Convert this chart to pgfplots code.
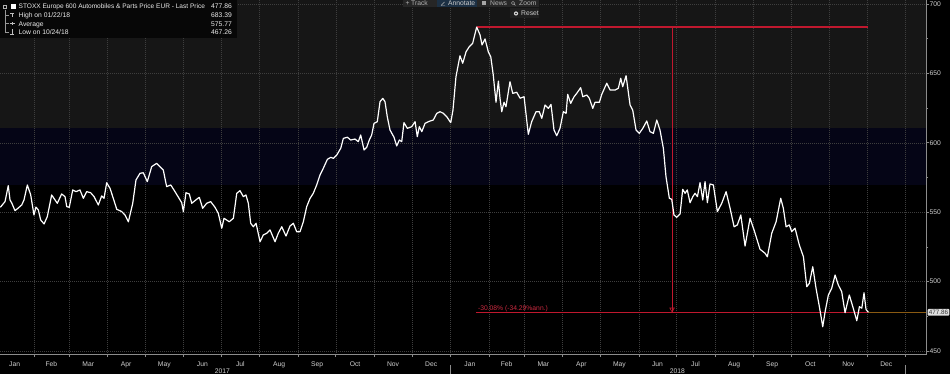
\documentclass[border=0pt]{standalone}
\usepackage{fontspec}
\setmainfont{Liberation Sans}
\usepackage{pgfplots}
\pgfplotsset{compat=1.18}
\usetikzlibrary{backgrounds,calc}
\definecolor{bggray}{HTML}{161616}
\definecolor{bgnavy}{HTML}{050516}
\definecolor{gridc}{HTML}{3E3E3E}
\definecolor{axc}{HTML}{8C8C8C}
\definecolor{txt}{HTML}{D0D0D0}
\definecolor{annred}{HTML}{C0182E}
\definecolor{annredtxt}{HTML}{CC2A40}
\definecolor{lastor}{HTML}{8A5A12}
\definecolor{legbg}{HTML}{070707}
\definecolor{tbbg}{HTML}{262626}
\definecolor{tbsel}{HTML}{1C3044}
\newcommand{\f}{\fontsize{6.75}{8}\selectfont}
\begin{document}
\begin{tikzpicture}[x=1pt,y=1pt]
\begin{axis}[
 name=ax,
 at={(0pt,374pt)}, anchor=north west, scale only axis, width=926pt, height=355pt,
 clip mode=individual,
 xmin=3.77, xmax=746.3, ymin=447.1, ymax=702.88,
 axis x line*=bottom, axis y line*=right,
 axis line style={axc, line width=1pt},
 tick align=outside,
 major tick length=3pt, minor tick length=2pt,
 ytick={450,500,550,600,650,700},
 minor ytick={475,525,575,625,675},
 y tick style={axc, line width=0.6pt},
 xtick={15.5,45,74.5,105,135.5,166,196.5,227.5,258,288.5,319,349.5,380.5,410,439.5,470,500.5,531,561.5,592.5,623,653.5,684,714.5},
 xticklabels={Jan,Feb,Mar,Apr,May,Jun,Jul,Aug,Sep,Oct,Nov,Dec,Jan,Feb,Mar,Apr,May,Jun,Jul,Aug,Sep,Oct,Nov,Dec},
 minor xtick={31,59,90,120,151,181,212,243,273,304,334,365,396,424,455,485,516,546,577,608,638,669,699,730},
 major x tick style={draw=none},
 minor x tick style={axc, line width=0.6pt},
 xminorgrids=true, ymajorgrids=true, xmajorgrids=false,
 minor x grid style={gridc, dash pattern=on 0.7pt off 1.3pt, line width=0.5pt},
 major y grid style={gridc, dash pattern=on 0.7pt off 1.3pt, line width=0.5pt},
 /pgf/number format/assume math mode=true,
 yticklabel style={font=\f, text=txt, inner sep=0.5pt},
 xticklabel style={font=\f, text=txt, inner sep=1pt, text height=5pt, text depth=1.4pt, yshift=-2pt},
 extra x ticks={182,547},
 extra x tick labels={2017,2018},
 extra x tick style={grid=none, major tick length=0pt, tick label style={yshift=-10.5pt}},
]
% last price line
\addplot[lastor, line width=1pt] coordinates {(700.1,477.86) (746.3,477.86)};
% annotation lines
\addplot[annred, line width=1.1pt] coordinates {(386,683.39) (700.1,683.39)};
\addplot[annred, line width=1pt] coordinates {(542.7,683.39) (542.7,477.86)};
\addplot[annred, line width=1.1pt] coordinates {(385.5,477.86) (700.1,477.86)};
\addplot[annred, only marks, mark=triangle, mark size=2.6pt, mark options={rotate=180, line width=0.6pt, fill=none}] coordinates {(542.7,480.0)};
\node[anchor=south west, text=annredtxt, font=\f, inner sep=0.6pt] at (axis cs:386.5,477.86) {-30.08\% (-34.29\%ann.)};
% price series
\addplot[white, line width=1.2pt, line join=round] coordinates {
(4,553.5)(7.8,557.6)(10.4,569.1)(11.8,558.8)(13.2,556.6)(15.8,551.1)(18.4,553.0)(21.2,555.2)(23.0,558.8)(25.7,569.6)(28.4,562.4)(31.0,548.0)(32.6,553.7)(34.5,551.6)(36.4,544.4)(39.1,541.5)(41.7,546.8)(45.2,562.4)(47.9,558.8)(49.7,556.4)(53.2,563.1)(55.9,561.2)(57.3,554.0)(59.3,553.5)(62.1,566.0)(64.7,564.8)(67.9,566.0)(70.6,560.0)(73.3,564.8)(76.5,564.0)(79.2,561.2)(82.6,555.2)(85.3,561.7)(87.2,560.0)(89.3,571.2)(92.0,567.2)(94.6,560.0)(97.4,552.1)(101.4,550.4)(104.0,548.0)(106.7,543.1)(110.2,556.4)(112.8,573.2)(116.0,578.0)(118.7,578.4)(121.9,572.0)(125.4,582.8)(129.4,585.2)(132.6,582.3)(134.7,580.4)(137.4,568.4)(140.7,569.6)(144.1,564.8)(149.5,556.8)(150.8,550.4)(152.9,564.0)(155.6,563.1)(157.5,556.4)(161.5,559.3)(163.6,560.7)(166.3,552.8)(169.5,556.4)(172.7,557.6)(176.2,553.5)(178.8,549.2)(181.6,538.4)(183.4,545.6)(187.6,543.1)(190.9,545.6)(193.6,563.6)(196.2,565.5)(198.9,561.2)(201.0,562.4)(202.9,556.4)(204.8,542.0)(206.9,539.5)(209.1,542.0)(212.3,528.7)(214.9,533.6)(217.6,534.8)(220.3,537.2)(224.3,528.7)(226.9,534.8)(229.7,539.5)(233.1,532.8)(236.3,540.0)(239.0,542.0)(241.7,535.9)(244.3,535.9)(247.0,543.1)(249.7,554.0)(252.4,560.0)(255.0,563.6)(257.7,569.6)(260.4,576.8)(263.0,581.6)(266.3,588.1)(269.0,589.5)(271.1,588.8)(273.8,591.2)(277.0,596.0)(279.1,603.2)(282.3,604.0)(285.0,602.0)(288.4,602.7)(291.1,600.8)(293.0,605.6)(295.7,594.8)(297.8,596.7)(299.9,602.0)(301.8,605.6)(303.7,614.0)(306.3,615.2)(308.5,629.6)(310.7,632.0)(312.5,629.6)(314.3,618.8)(316.5,609.2)(319.7,604.0)(321.9,597.7)(324.0,602.0)(325.9,600.8)(327.7,614.5)(330.4,610.4)(333.9,611.6)(336.6,615.2)(338.4,604.4)(340.0,611.6)(342.0,608.0)(344.6,614.0)(347.2,615.2)(351.2,616.4)(354.0,621.2)(356.6,622.4)(359.3,621.2)(362.0,618.8)(365.2,614.5)(367.0,623.6)(369.4,647.6)(372.6,662.7)(374.8,657.3)(377.5,665.6)(380.1,669.3)(382.8,671.7)(386.0,683.4)(388.7,677.7)(390.3,670.5)(392.7,674.8)(395.3,665.6)(397.3,662.0)(399.3,648.8)(401.5,629.2)(403.4,644.5)(404.7,632.1)(406.1,622.4)(407.9,629.2)(409.5,626.0)(412.7,644.0)(414.9,635.6)(418.1,636.4)(420.8,632.1)(424.0,633.2)(427.4,606.1)(430.1,615.2)(433.6,622.4)(436.2,622.4)(438.2,617.6)(440.8,627.2)(443.5,624.8)(445.6,627.7)(448.0,609.2)(450.2,605.1)(452.8,610.4)(455.5,622.4)(457.7,621.2)(459.0,634.9)(461.4,628.4)(464.1,633.2)(466.2,635.6)(469.4,639.7)(471.1,633.2)(474.3,634.4)(476.3,632.1)(479.1,624.8)(480.9,629.2)(484.4,629.2)(486.3,634.9)(490.3,642.9)(493.0,638.0)(497.0,638.0)(499.6,639.3)(501.5,646.5)(503.1,640.4)(505.8,648.3)(509.0,627.2)(511.1,623.6)(513.8,609.2)(516.4,606.8)(519.2,610.4)(522.4,615.7)(525.0,608.0)(527.7,606.8)(530.4,616.4)(533.0,609.2)(535.7,596.0)(537.8,575.6)(540.5,560.0)(542.4,559.3)(544.2,548.0)(546.4,546.3)(549.1,548.7)(551.2,566.5)(553.1,563.6)(554.9,566.0)(557.1,556.8)(559.3,561.2)(561.1,563.6)(563.0,561.2)(565.1,571.3)(567.3,558.8)(569.1,572.0)(571.0,556.8)(573.1,570.3)(575.8,569.6)(579.0,550.4)(582.5,556.4)(586.0,564.8)(589.2,552.8)(592.4,539.5)(595.0,540.8)(597.8,548.0)(601.2,525.6)(605.2,545.6)(608.4,537.2)(613.2,523.3)(617.2,520.4)(619.1,517.9)(622.6,534.8)(626.1,543.1)(629.8,560.0)(631.9,552.8)(634.1,539.5)(636.7,540.8)(638.6,536.0)(641.3,538.4)(644.7,526.4)(648.0,517.9)(650.7,496.3)(652.8,498.8)(655.5,510.7)(658.1,495.2)(660.8,481.9)(663.5,467.5)(665.4,478.3)(668.0,490.3)(670.7,495.2)(673.4,504.7)(676.0,497.5)(678.7,492.7)(681.4,477.6)(684.8,490.3)(687.6,481.9)(690.8,471.8)(692.9,481.9)(694.8,480.8)(696.6,491.9)(698.2,479.9)(700.1,477.86)
};
\coordinate (lp) at (axis cs:746.3,477.86);
\coordinate (j18) at (axis cs:365,447.1);
\coordinate (j19) at (axis cs:730,447.1);
\end{axis}
% backgrounds tied to the axis box (bands at 569.6 and 610.9)
\begin{scope}[on background layer]
\fill[black] (0,0) rectangle (950,374);
\fill[bggray] ($(ax.south west)!0.6404!(ax.north west)$) rectangle (ax.north east);
\fill[bgnavy] ($(ax.south west)!0.4789!(ax.north west)$) rectangle ($(ax.south east)!0.6404!(ax.north east)$);
\end{scope}
\node[anchor=west, fill=white!88!black, text=black!80, font=\fontsize{6.3}{7}\selectfont, inner sep=1.2pt, rounded corners=1pt] at ($(lp)+(1.5,0)$) {477.86};
% year separators below axis
\draw[axc, line width=0.8pt] ($(j18)+(0,-10)$) -- ($(j18)+(0,-20)$);
\draw[axc, line width=0.8pt] ($(j19)+(0,-10)$) -- ($(j19)+(0,-20)$);
% legend box
\fill[legbg] (0,374) rectangle (237,336);
\draw[white!70!black, line width=0.4pt] (3.5,366) rectangle (6.5,369);
\fill[white] (11,365) rectangle (16,370);
\draw[white!60!black, line width=0.5pt] (5,364) -- (5,342);
\draw[white!60!black, line width=0.5pt] (5,358.5) -- (8.5,358.5) (5,350.3) -- (8.5,350.3) (5,342) -- (8.5,342);
\draw[white!75!black, line width=0.5pt] (10,361) -- (14,361) (12,361) -- (12,356.5);
\draw[white!75!black, line width=0.5pt] (9.5,350.3) -- (14.5,350.3) (12,348.8) -- (12,351.8);
\draw[white!75!black, line width=0.5pt] (12,344.5) -- (12,340) (10,340) -- (14,340);
\node[anchor=base west, font=\fontsize{6.55}{8}\selectfont, text=white!92!black, inner sep=0] at (18.5,365.1) {STOXX Europe 600 Automobiles \& Parts Price EUR - Last Price};
\node[anchor=base east, font=\f, text=white!92!black, inner sep=0] at (232,365.1) {477.86};
\node[anchor=base west, font=\f, text=white!92!black, inner sep=0] at (18.5,356.1) {High on 01/22/18};
\node[anchor=base east, font=\f, text=white!92!black, inner sep=0] at (232,356.1) {683.39};
\node[anchor=base west, font=\f, text=white!92!black, inner sep=0] at (18.5,347.9) {Average};
\node[anchor=base east, font=\f, text=white!92!black, inner sep=0] at (232,347.9) {575.77};
\node[anchor=base west, font=\f, text=white!92!black, inner sep=0] at (18.5,339.6) {Low on 10/24/18};
\node[anchor=base east, font=\f, text=white!92!black, inner sep=0] at (232,339.6) {467.26};
% toolbar
\fill[tbbg] (403,374) rectangle (539,367);
\fill[tbsel] (437,374) rectangle (477,367);
\node[anchor=base west, font=\f, text=white!70!black, inner sep=0] at (405.5,368.5) {+};
\node[anchor=base west, font=\f, text=white!70!black, inner sep=0] at (411,368.5) {Track};
\draw[white!70!black, line width=0.4pt] (441,368.5) -- (445,368.5) (441,368.5) -- (444.5,372);
\node[anchor=base west, font=\f, text=white!80!black, inner sep=0] at (448,368.5) {Annotate};
\fill[white!65!black] (482,368.5) rectangle (486,372.5);
\node[anchor=base west, font=\f, text=white!70!black, inner sep=0] at (490,368.5) {News};
\draw[white!70!black, line width=0.4pt] (513,371) circle (1.6) (514.1,369.9) -- (515.5,368.5);
\node[anchor=base west, font=\f, text=white!70!black, inner sep=0] at (519,368.5) {Zoom};
\fill[white!12!black] (510,365.7) rectangle (539,355.7);
\fill[white!85!black] (516,360.5) circle (2.1);
\fill[white!12!black] (516,360.5) circle (0.9);
\node[anchor=base west, font=\f, text=white!80!black, inner sep=0] at (521,358) {Reset};
\pgfresetboundingbox
\path[use as bounding box] (0,0) rectangle (950,374);
\end{tikzpicture}
\end{document}
